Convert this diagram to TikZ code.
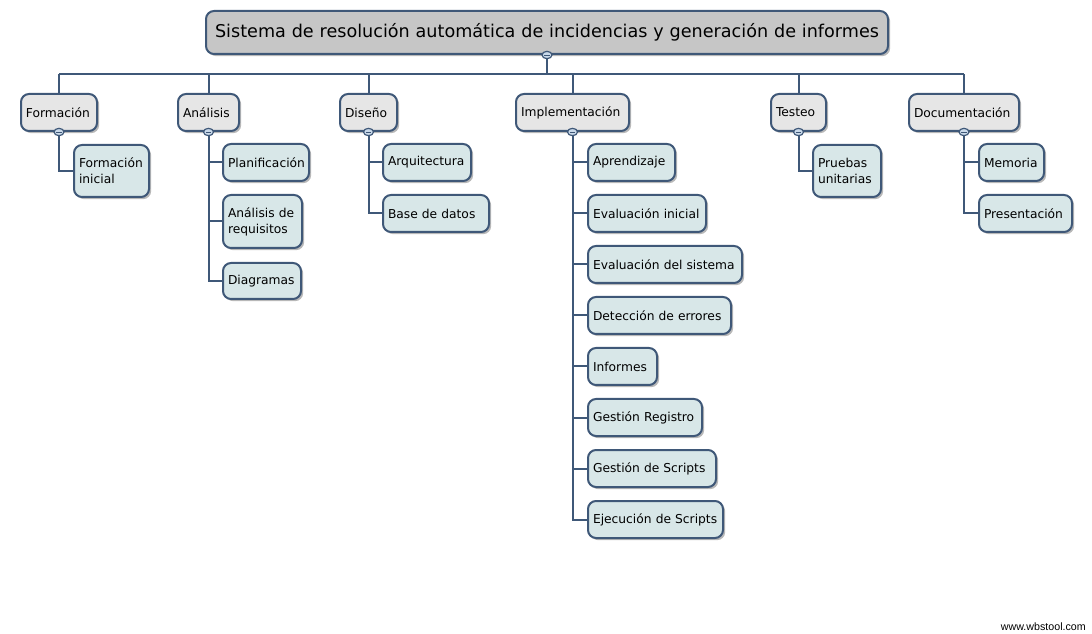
\documentclass[tikz,border=0pt]{standalone}
\usepackage{fontspec}
\setmainfont{DejaVu Sans}
\newfontfamily\wmfont{Liberation Sans}
\usetikzlibrary{shadows,backgrounds,shapes.geometric}
\definecolor{wbline}{HTML}{3F5878}
\definecolor{wbroot}{HTML}{C6C6C6}
\definecolor{wblev}{HTML}{E6E6E6}
\definecolor{wbleaf}{HTML}{D8E7E8}
\definecolor{wbcirc}{HTML}{C9D9EA}
\tikzset{
  wbbase/.style={draw=wbline, line width=1.5pt, rounded corners=6pt,
    inner xsep=3.75pt, inner ysep=0pt, align=left,
    drop shadow={shadow xshift=1.6pt, shadow yshift=-1.6pt, fill=black, opacity=0.28}},
  rootbox/.style={wbbase, fill=wbroot, align=center, font=\fontsize{13.2}{16}\selectfont},
  levbox/.style={wbbase, fill=wblev, font=\fontsize{9.2}{12}\selectfont},
  leafbox/.style={wbbase, fill=wbleaf, font=\fontsize{9.2}{12}\selectfont},
  conn/.style={draw=wbline, line width=1.5pt},
  circ/.style={ellipse, draw=wbline, line width=0.9pt, fill=wbcirc, inner sep=0pt,
    minimum width=7.5pt, minimum height=5.5pt,
    path picture={\draw[wbline, line width=0.7pt] ([xshift=-2pt]path picture bounding box.center) -- ([xshift=2pt]path picture bounding box.center);}}
}
\newcommand\wbsnode[7]{%
  \pgfmathsetmacro\wbtw{(#5-#3)*0.75-7.5}%
  \pgfmathsetmacro\wbh{(#6-#4)*0.75}%
  \node[#1, anchor=north west, text width=\wbtw pt, minimum height=\wbh pt] (#2) at (#3,#4) {\hyphenpenalty=10000 #7};}
\begin{document}
\begin{tikzpicture}[x=0.75pt,y=-0.75pt]
\useasboundingbox (0,0) rectangle (1092,634);
% root
\wbsnode{rootbox}{root}{205}{10}{887}{53}{Sistema de resolución automática de incidencias y generación de informes}
% level 1
\wbsnode{levbox}{form}{20}{93}{96}{130}{Formación}
\wbsnode{levbox}{anal}{177}{93}{238}{130}{Análisis}
\wbsnode{levbox}{dise}{339}{93}{396}{130}{Diseño}
\wbsnode{levbox}{impl}{515}{93}{628}{130}{Implementación}
\wbsnode{levbox}{test}{770}{93}{825}{130}{Testeo}
\wbsnode{levbox}{docu}{908}{93}{1018}{130}{Documentación}
% level 2
\wbsnode{leafbox}{fini}{73}{144}{148}{196}{Formación\\inicial}
\wbsnode{leafbox}{plan}{222}{143}{308}{180}{Planificación}
\wbsnode{leafbox}{areq}{222}{194}{301}{247}{Análisis de\\requisitos}
\wbsnode{leafbox}{diag}{222}{262}{300}{298}{Diagramas}
\wbsnode{leafbox}{arqu}{382}{143}{470}{180}{Arquitectura}
\wbsnode{leafbox}{bdat}{382}{194}{488}{231}{Base de datos}
\wbsnode{leafbox}{apre}{587}{143}{674}{180}{Aprendizaje}
\wbsnode{leafbox}{evin}{587}{194}{705}{231}{Evaluación inicial}
\wbsnode{leafbox}{evsi}{587}{245}{741}{282}{Evaluación del sistema}
\wbsnode{leafbox}{dete}{587}{296}{730}{333}{Detección de errores}
\wbsnode{leafbox}{info}{587}{347}{656}{384}{Informes}
\wbsnode{leafbox}{gesr}{587}{398}{701}{435}{Gestión Registro}
\wbsnode{leafbox}{gess}{587}{449}{715}{486}{Gestión de Scripts}
\wbsnode{leafbox}{ejes}{587}{500}{722}{537}{Ejecución de Scripts}
\wbsnode{leafbox}{prue}{812}{144}{880}{196}{Pruebas\\unitarias}
\wbsnode{leafbox}{memo}{978}{143}{1043}{180}{Memoria}
\wbsnode{leafbox}{pres}{978}{194}{1071}{231}{Presentación}
% collapse circles
\node[circ] (c0) at (root.south) {};
\node[circ] (cf) at (form.south) {};
\node[circ] (ca) at (anal.south) {};
\node[circ] (cd) at (dise.south) {};
\node[circ] (ci) at (impl.south) {};
\node[circ] (ct) at (test.south) {};
\node[circ] (cdo) at (docu.south) {};
\coordinate (busL) at (form.north |- 0,74);
\coordinate (busR) at (docu.north |- 0,74);
\begin{pgfonlayer}{background}
\draw[conn] (busL) -- (busR);
\draw[conn] (c0.center) -- (c0.center |- busL);
\foreach \n in {form,anal,dise,impl,test,docu} \draw[conn] (\n.north) -- (\n.north |- busL);
\draw[conn] (cf.center) |- (fini.west);
\foreach \n in {plan,areq,diag} \draw[conn] (ca.center) |- (\n.west);
\foreach \n in {arqu,bdat} \draw[conn] (cd.center) |- (\n.west);
\foreach \n in {apre,evin,evsi,dete,info,gesr,gess,ejes} \draw[conn] (ci.center) |- (\n.west);
\draw[conn] (ct.center) |- (prue.west);
\foreach \n in {memo,pres} \draw[conn] (cdo.center) |- (\n.west);
\end{pgfonlayer}
\node[anchor=east, font=\wmfont\fontsize{8}{9}\selectfont, inner sep=0pt] (wm) at (1086,627) {www.wbstool.com};
\end{tikzpicture}
\end{document}
